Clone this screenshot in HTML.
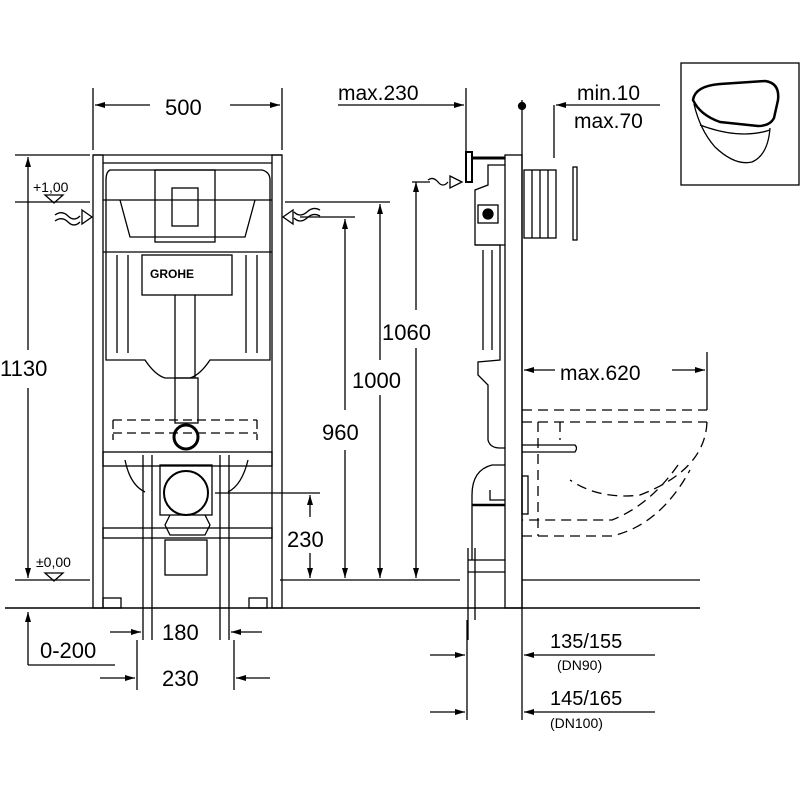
<!DOCTYPE html>
<html><head><meta charset="utf-8"><style>
html,body{margin:0;padding:0;background:#fff}
svg{display:block}
text{font-family:"Liberation Sans",sans-serif;fill:#000}
</style></head><body>
<svg width="800" height="800" viewBox="0 0 800 800" xmlns="http://www.w3.org/2000/svg">
<defs>
<marker id="a" viewBox="0 0 10 6" refX="10" refY="3" markerWidth="10" markerHeight="6" orient="auto-start-reverse" markerUnits="userSpaceOnUse"><path d="M0,0 L10,3 L0,6 z" fill="#000"/></marker>
</defs>
<g stroke="#000" fill="none" stroke-width="1.3">
<line x1="93" y1="88" x2="93" y2="150"/><line x1="282" y1="88" x2="282" y2="150"/>
<line x1="95" y1="105" x2="150" y2="105" marker-start="url(#a)"/><line x1="230" y1="105" x2="280" y2="105" marker-end="url(#a)"/>
<line x1="15" y1="155" x2="90" y2="155"/>
<line x1="28" y1="157" x2="28" y2="350" marker-start="url(#a)"/><line x1="28" y1="388" x2="28" y2="578" marker-end="url(#a)"/>
<line x1="15" y1="202" x2="90" y2="202"/><path d="M45,195 L63,195 L54,203 z"/>
<line x1="15" y1="580" x2="90" y2="580"/><path d="M45,573 L63,573 L54,581 z"/>
<line x1="5" y1="608" x2="700" y2="608" stroke-width="1.6"/>
<line x1="280" y1="580" x2="460" y2="580"/><line x1="522" y1="580" x2="700" y2="580"/>
<line x1="28" y1="612" x2="28" y2="665" marker-start="url(#a)"/><line x1="28" y1="665" x2="115" y2="665"/>
<rect x="93" y="155" width="10" height="453"/><rect x="272" y="155" width="10" height="453"/>
<line x1="93" y1="155" x2="282" y2="155"/><line x1="103" y1="163" x2="272" y2="163"/>
<rect x="103" y="598" width="18" height="10"/><rect x="249" y="598" width="18" height="10"/>
<path d="M110,170 L262,170 Q270,172 270,180 L270,360 L210,360 Q200,375 190,378 L165,378 Q155,375 145,360 L106,360 L106,180 Q106,172 110,170 z"/>
<line x1="103" y1="200" x2="272" y2="200"/><line x1="103" y1="252" x2="272" y2="252"/>
<path d="M120,200 L130,237 L245,237 L255,200"/>
<rect x="155" y="170" width="60" height="72"/><rect x="172" y="188" width="26" height="38"/>
<rect x="142" y="255" width="90" height="40"/>
<line x1="117" y1="255" x2="117" y2="353"/><line x1="128" y1="255" x2="128" y2="353"/>
<line x1="246" y1="255" x2="246" y2="353"/><line x1="257" y1="255" x2="257" y2="353"/>
<line x1="175" y1="295" x2="175" y2="378"/><line x1="195" y1="295" x2="195" y2="378"/>
<rect x="175" y="378" width="23" height="45"/>
<circle cx="186" cy="437" r="12" stroke-width="3"/>
<path d="M113,420 L257,420 M113,433 L257,433 M113,420 L113,440 M257,420 L257,440" stroke-dasharray="9,5"/>
<rect x="103" y="452" width="169" height="14"/>
<rect x="103" y="528" width="169" height="10"/>
<rect x="160" y="465" width="52" height="50"/>
<circle cx="186" cy="493" r="22" stroke-width="2"/>
<path d="M170,515 L165,525 L170,535 L205,535 L210,525 L205,515"/>
<rect x="165" y="540" width="42" height="35"/>
<path d="M125,460 Q130,485 145,492 M248,460 Q242,485 228,492"/>
<line x1="143" y1="455" x2="143" y2="640"/><line x1="152" y1="455" x2="152" y2="640"/>
<line x1="220" y1="455" x2="220" y2="640"/><line x1="229" y1="455" x2="229" y2="640"/>
<line x1="137" y1="640" x2="137" y2="690"/><line x1="234" y1="640" x2="234" y2="690"/>
<line x1="110" y1="632" x2="141" y2="632" marker-end="url(#a)"/><line x1="262" y1="632" x2="231" y2="632" marker-end="url(#a)"/>
<line x1="100" y1="678" x2="135" y2="678" marker-end="url(#a)"/><line x1="270" y1="678" x2="236" y2="678" marker-end="url(#a)"/>
<path d="M55,215 Q62,210 68,216 Q74,222 80,216 M55,221 Q62,216 68,222 Q74,228 80,222"/>
<path d="M82,210 L92,217 L82,224 z"/>
<path d="M320,210 Q313,206 307,212 Q300,218 294,212 M320,216 Q313,212 307,218 Q300,224 294,218"/>
<path d="M293,210 L283,217 L293,224 z"/>
<line x1="285" y1="202" x2="390" y2="202"/><line x1="300" y1="217" x2="355" y2="217"/>
<line x1="380" y1="204" x2="380" y2="360" marker-start="url(#a)"/><line x1="380" y1="395" x2="380" y2="578" marker-end="url(#a)"/>
<line x1="345" y1="219" x2="345" y2="410" marker-start="url(#a)"/><line x1="345" y1="450" x2="345" y2="578" marker-end="url(#a)"/>
<line x1="215" y1="493" x2="320" y2="493"/>
<line x1="310" y1="495" x2="310" y2="517" marker-start="url(#a)"/><line x1="310" y1="553" x2="310" y2="578" marker-end="url(#a)"/>
<line x1="416" y1="182" x2="416" y2="310" marker-start="url(#a)"/><line x1="416" y1="348" x2="416" y2="578" marker-end="url(#a)"/>
<line x1="412" y1="182" x2="430" y2="182"/>
<path d="M428,180 Q433,176 438,182 Q443,188 448,182"/><path d="M450,176 L462,182 L450,188 z"/>
<line x1="466" y1="88" x2="466" y2="178"/><line x1="338" y1="105" x2="464" y2="105" marker-end="url(#a)"/>
<line x1="522" y1="100" x2="522" y2="608"/><circle cx="522" cy="106" r="3.5" fill="#000"/>
<line x1="554" y1="105" x2="554" y2="158"/><line x1="660" y1="105" x2="556" y2="105" marker-end="url(#a)"/>
<rect x="505" y="155" width="17" height="453"/>
<rect x="466" y="152" width="6" height="30" stroke-width="2"/><line x1="472" y1="158" x2="505" y2="158" stroke-width="3"/>
<path d="M505,165 L488,165 L488,185 L475,190 L475,245 L500,245 L500,360 L478,362 L478,375 L488,385 L488,440 Q490,448 500,448 L505,448"/>
<rect x="478" y="205" width="20" height="18"/><circle cx="488" cy="214" r="5" fill="#000"/>
<line x1="475" y1="245" x2="505" y2="245"/><line x1="483" y1="250" x2="483" y2="350"/><line x1="492" y1="250" x2="492" y2="350"/>
<rect x="524" y="170" width="32" height="68"/><line x1="532" y1="170" x2="532" y2="238"/><line x1="540" y1="170" x2="540" y2="238"/><line x1="548" y1="170" x2="548" y2="238"/>
<rect x="573" y="167" width="4" height="73"/>
<path d="M505,465 L492,465 Q472,470 472,495 L472,560 M505,500 L490,500 L490,490"/>
<line x1="472" y1="505" x2="505" y2="505" stroke-width="2.5"/>
<path d="M468,548 L468,640 M475,548 L475,620 M468,560 L505,560 M468,572 L505,572"/>
<line x1="467" y1="620" x2="467" y2="720"/><line x1="522" y1="608" x2="522" y2="720"/>
<line x1="430" y1="655" x2="465" y2="655" marker-end="url(#a)"/><line x1="655" y1="655" x2="524" y2="655" marker-end="url(#a)"/>
<line x1="430" y1="712" x2="465" y2="712" marker-end="url(#a)"/><line x1="655" y1="712" x2="524" y2="712" marker-end="url(#a)"/>
<line x1="524" y1="370" x2="555" y2="370" marker-start="url(#a)"/><line x1="672" y1="370" x2="705" y2="370" marker-end="url(#a)"/>
<line x1="707" y1="352" x2="707" y2="410"/>
<g stroke-dasharray="10,6">
<path d="M522,410 L707,410 M522,422 L707,422"/>
<path d="M707,422 Q705,470 640,495 Q600,500 570,480"/>
<path d="M678,465 Q650,505 612,520 L522,520 M522,536 L612,536 Q660,525 690,470"/>
<path d="M538,422 L538,536 M560,422 L560,440"/>
</g>
<path d="M522,445 L575,445 Q578,448 575,452 L522,452"/>
<rect x="522" y="476" width="6" height="38"/>
<rect x="681" y="63" width="118" height="122"/>
<path d="M693,100 Q695,86 720,84 L765,81 Q780,83 778,100 L774,118 Q770,126 758,126 L720,122 Q700,115 693,100 z" stroke-width="2.5"/>
<path d="M694,104 Q700,130 715,147 Q735,166 752,162 Q768,155 770,128"/>
<path d="M700,125 Q740,140 770,130"/>
</g>
<g font-size="22">
<text x="165" y="115">500</text>
<text x="0" y="376">1130</text>
<text x="382" y="340">1060</text>
<text x="352" y="388">1000</text>
<text x="322" y="440">960</text>
<text x="287" y="547">230</text>
<text x="338" y="100" font-size="21">max.230</text>
<text x="577" y="100" font-size="21">min.10</text>
<text x="574" y="128" font-size="21">max.70</text>
<text x="560" y="380" font-size="21">max.620</text>
<text x="162" y="640">180</text>
<text x="162" y="686">230</text>
<text x="40" y="658">0-200</text>
<text x="550" y="648" font-size="20">135/155</text>
<text x="550" y="705" font-size="20">145/165</text>
<text x="33" y="192" font-size="14">+1,00</text>
<text x="36" y="567" font-size="14">±0,00</text>
<text x="557" y="670" font-size="14">(DN90)</text>
<text x="550" y="728" font-size="14">(DN100)</text>
<text x="150" y="278" font-size="12" font-weight="bold">GROHE</text>
</g>
</svg>
</body></html>
